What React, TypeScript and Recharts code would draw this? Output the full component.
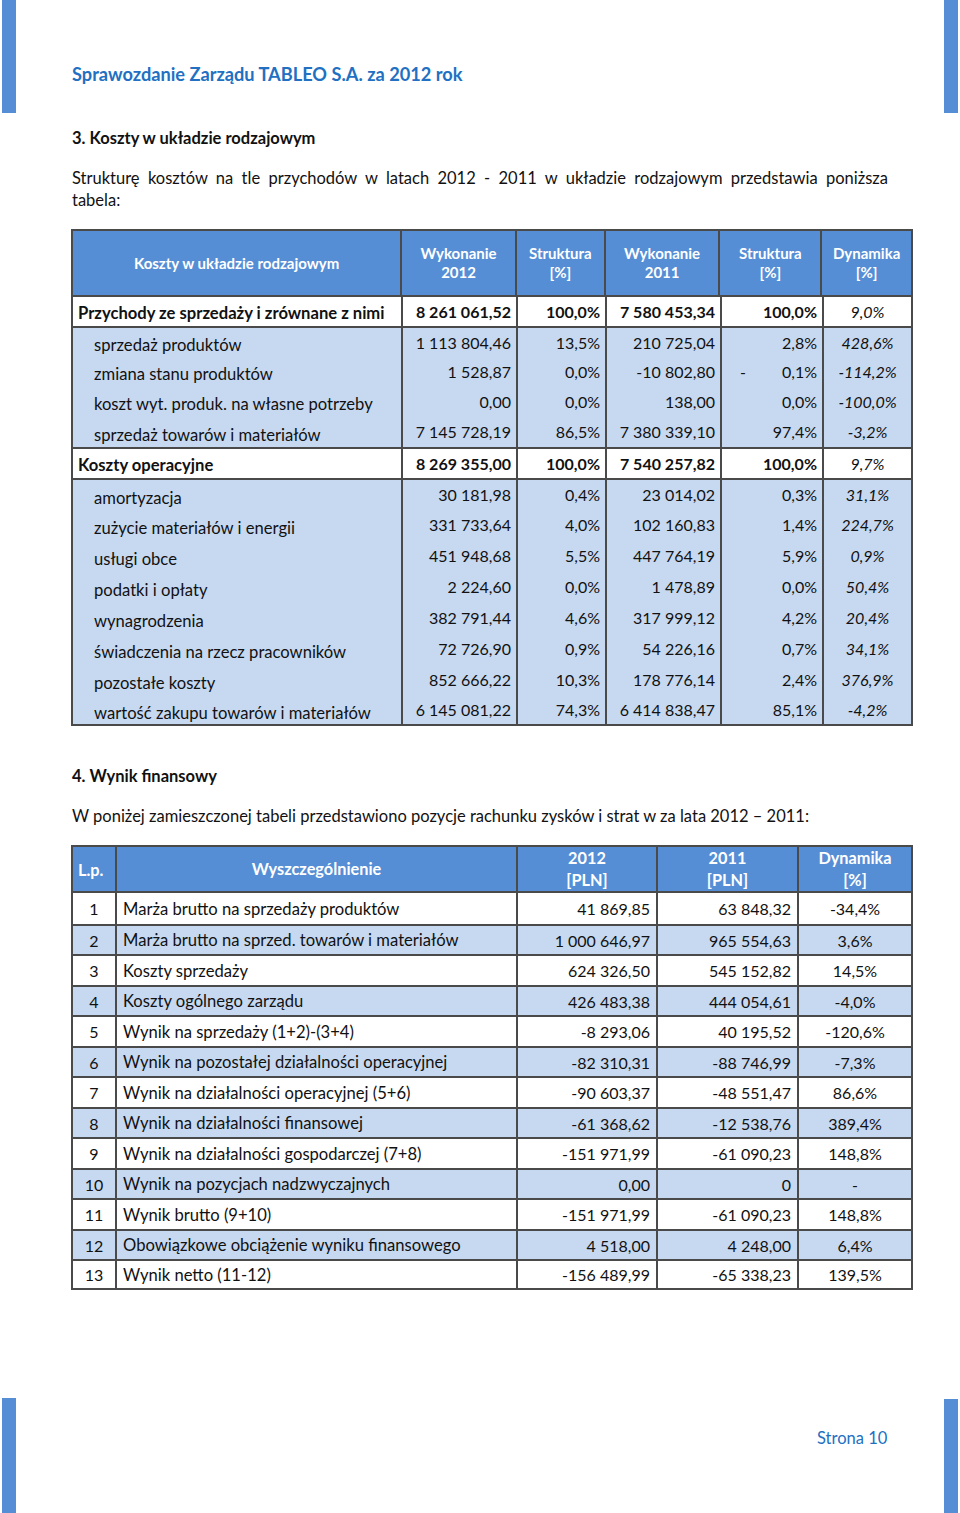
import React from "react"
import { Surface, Rectangle } from "recharts"

// page colours
const BLUE = "#558ED5"
const LIGHT = "#C6D9F1"
const LINE = "#4a4a4a"
const TITLE = "#2170C2"
const FONT = "Lato, 'Open Sans', sans-serif"

// table 3: koszty w układzie rodzajowym
const t1Headers = ["Koszty w układzie rodzajowym", "Wykonanie\n2012", "Struktura\n[%]", "Wykonanie\n2011", "Struktura\n[%]", "Dynamika\n[%]"]
const t1Labels = [
  "Przychody ze sprzedaży i zrównane z nimi",
  "sprzedaż produktów",
  "zmiana stanu produktów",
  "koszt wyt. produk. na własne potrzeby",
  "sprzedaż towarów i materiałów",
  "Koszty operacyjne",
  "amortyzacja",
  "zużycie materiałów i energii",
  "usługi obce",
  "podatki i opłaty",
  "wynagrodzenia",
  "świadczenia na rzecz pracowników",
  "pozostałe koszty",
  "wartość zakupu towarów i materiałów",
]
const t1Wyk2012 = ["8 261 061,52", "1 113 804,46", "1 528,87", "0,00", "7 145 728,19", "8 269 355,00", "30 181,98", "331 733,64", "451 948,68", "2 224,60", "382 791,44", "72 726,90", "852 666,22", "6 145 081,22"]
const t1Str2012 = ["100,0%", "13,5%", "0,0%", "0,0%", "86,5%", "100,0%", "0,4%", "4,0%", "5,5%", "0,0%", "4,6%", "0,9%", "10,3%", "74,3%"]
const t1Wyk2011 = ["7 580 453,34", "210 725,04", "-10 802,80", "138,00", "7 380 339,10", "7 540 257,82", "23 014,02", "102 160,83", "447 764,19", "1 478,89", "317 999,12", "54 226,16", "178 776,14", "6 414 838,47"]
const t1Str2011 = ["100,0%", "2,8%", "- 0,1%", "0,0%", "97,4%", "100,0%", "0,3%", "1,4%", "5,9%", "0,0%", "4,2%", "0,7%", "2,4%", "85,1%"]
const t1Dyn = ["9,0%", "428,6%", "-114,2%", "-100,0%", "-3,2%", "9,7%", "31,1%", "224,7%", "0,9%", "50,4%", "20,4%", "34,1%", "376,9%", "-4,2%"]
const t1BoldRows = [0, 5]

// table 4: wynik finansowy
const t2Headers = ["L.p.", "Wyszczególnienie", "2012\n[PLN]", "2011\n[PLN]", "Dynamika\n[%]"]
const t2Labels = [
  "Marża brutto na sprzedaży produktów",
  "Marża brutto na sprzed. towarów i materiałów",
  "Koszty sprzedaży",
  "Koszty ogólnego zarządu",
  "Wynik na sprzedaży (1+2)-(3+4)",
  "Wynik na pozostałej działalności operacyjnej",
  "Wynik na działalności operacyjnej (5+6)",
  "Wynik na działalności finansowej",
  "Wynik na działalności  gospodarczej (7+8)",
  "Wynik na pozycjach nadzwyczajnych",
  "Wynik brutto (9+10)",
  "Obowiązkowe obciążenie wyniku finansowego",
  "Wynik netto (11-12)",
]
const t2V2012 = ["41 869,85", "1 000 646,97", "624 326,50", "426 483,38", "-8 293,06", "-82 310,31", "-90 603,37", "-61 368,62", "-151 971,99", "0,00", "-151 971,99", "4 518,00", "-156 489,99"]
const t2V2011 = ["63 848,32", "965 554,63", "545 152,82", "444 054,61", "40 195,52", "-88 746,99", "-48 551,47", "-12 538,76", "-61 090,23", "0", "-61 090,23", "4 248,00", "-65 338,23"]
const t2Dyn = ["-34,4%", "3,6%", "14,5%", "-4,0%", "-120,6%", "-7,3%", "86,6%", "389,4%", "148,8%", "-", "148,8%", "6,4%", "139,5%"]

const t1Cols = [332, 115, 89, 115, 102, 89]
const t2Cols = [46, 401, 140, 141, 114]
const t1Heights = [29, 30, 30, 30, 31, 31, 31, 31, 31, 31, 31, 31, 31, 29]

const cell = (w: number, last: boolean): React.CSSProperties => ({
  width: w,
  boxSizing: "border-box",
  borderRight: last ? "none" : `2px solid ${LINE}`,
  display: "flex",
  alignItems: "center",
  height: "100%",
  whiteSpace: "nowrap",
})

const HeaderText = ({ text, lh }: { text: string; lh: number }) => (
  <div style={{ textAlign: "center", lineHeight: `${lh}px`, width: "100%" }}>
    {text.split("\n").map((t, i) => (
      <div key={i}>{t}</div>
    ))}
  </div>
)

function CostTable() {
  return (
    <div style={{ position: "absolute", left: 71, top: 229, width: 842, border: `2px solid ${LINE}`, boxSizing: "border-box", fontSize: 16 }}>
      <div style={{ display: "flex", height: 64, background: BLUE, color: "#fff", fontWeight: 700, fontSize: 15, borderBottom: `2px solid ${LINE}` }}>
        {t1Headers.map((h, i) => (
          <div key={i} style={{ ...cell(t1Cols[i] - (i === 0 ? 2 : 0), i === 5) }}>
            <HeaderText text={h} lh={19} />
          </div>
        ))}
      </div>
      {t1Labels.map((label, r) => {
        const bold = t1BoldRows.includes(r)
        const groupStart = r === 1 || r === 5 || r === 6
        const vals = [t1Wyk2012[r], t1Str2012[r], t1Wyk2011[r], t1Str2011[r]]
        return (
          <div
            key={r}
            style={{
              display: "flex",
              height: t1Heights[r] - (groupStart ? 2 : 0),
              background: bold ? "#fff" : LIGHT,
              borderTop: groupStart ? `2px solid ${LINE}` : "none",
              fontWeight: bold ? 700 : 400,
              color: "#111",
            }}
          >
            <div style={{ ...cell(t1Cols[0] - 2, false), fontSize: 16.6, paddingLeft: bold ? 5 : 21, paddingTop: bold ? 3 : 6 }}>{label}</div>
            {vals.map((v, i) => (
              <div key={i} style={{ ...cell(t1Cols[i + 1], false), justifyContent: "space-between", padding: "0 5px 0 0" }}>
                {v.startsWith("- ") ? (
                  <>
                    <span style={{ paddingLeft: 18 }}>-</span>
                    <span>{v.slice(2)}</span>
                  </>
                ) : (
                  <>
                    <span />
                    <span>{v}</span>
                  </>
                )}
              </div>
            ))}
            <div style={{ ...cell(t1Cols[5] - 2, true), justifyContent: "center", fontStyle: "italic", fontWeight: 400 }}>{t1Dyn[r]}</div>
          </div>
        )
      })}
    </div>
  )
}

function ResultTable() {
  return (
    <div style={{ position: "absolute", left: 71, top: 845, width: 842, border: `2px solid ${LINE}`, boxSizing: "border-box", fontSize: 16 }}>
      <div style={{ display: "flex", height: 44, background: BLUE, color: "#fff", fontWeight: 700, fontSize: 16.3, borderBottom: `2px solid ${LINE}` }}>
        {t2Headers.map((h, i) => (
          <div key={i} style={{ ...cell(t2Cols[i] - (i === 0 || i === 4 ? 2 : 0), i === 4), paddingLeft: i === 0 ? 5 : 0 }}>
            {i === 0 ? h : <HeaderText text={h} lh={22} />}
          </div>
        ))}
      </div>
      {t2Labels.map((label, r) => (
        <div
          key={r}
          style={{
            display: "flex",
            height: (r % 2 === 0 ? 31 : 30) - (r === 0 ? 0 : 2) - (r === 12 ? 2 : 0),
            background: r % 2 === 0 ? "#fff" : LIGHT,
            borderTop: r === 0 ? "none" : `2px solid ${LINE}`,
            color: "#111",
          }}
        >
          <div style={{ ...cell(t2Cols[0] - 2, false), justifyContent: "center" }}>{r + 1}</div>
          <div style={{ ...cell(t2Cols[1], false), paddingLeft: 6, fontSize: 16.6 }}>{label}</div>
          <div style={{ ...cell(t2Cols[2], false), justifyContent: "flex-end", paddingRight: 6 }}>{t2V2012[r]}</div>
          <div style={{ ...cell(t2Cols[3], false), justifyContent: "flex-end", paddingRight: 6 }}>{t2V2011[r]}</div>
          <div style={{ ...cell(t2Cols[4] - 2, true), justifyContent: "center" }}>{t2Dyn[r]}</div>
        </div>
      ))}
    </div>
  )
}

export default function App() {
  return (
    <div style={{ position: "relative", width: 960, height: 1513, fontFamily: FONT, color: "#111", background: "#fff", overflow: "hidden" }}>
      <style>{`body{margin:0}`}</style>
      <div style={{ position: "absolute", left: 0, top: 0 }}>
        <Surface width={960} height={1513}>
          <Rectangle x={2} y={0} width={14} height={113} fill={BLUE} />
          <Rectangle x={944} y={0} width={14} height={113} fill={BLUE} />
          <Rectangle x={2} y={1398} width={14} height={115} fill={BLUE} />
          <Rectangle x={944} y={1399} width={14} height={114} fill={BLUE} />
        </Surface>
      </div>
      <div style={{ position: "absolute", left: 72, top: 63, fontSize: 18.2, fontWeight: 700, color: TITLE }}>
        Sprawozdanie Zarządu TABLEO S.A. za 2012 rok
      </div>
      <div style={{ position: "absolute", left: 72, top: 128, fontSize: 16.5, fontWeight: 700 }}>3. Koszty w układzie rodzajowym</div>
      <div style={{ position: "absolute", left: 72, top: 167, width: 816, fontSize: 16.5, lineHeight: "22px" }}>
        <div style={{ textAlign: "justify", textAlignLast: "justify" }}>
          Strukturę kosztów na tle przychodów w latach 2012 - 2011 w układzie rodzajowym przedstawia poniższa
        </div>
        <div>tabela:</div>
      </div>
      <CostTable />
      <div style={{ position: "absolute", left: 72, top: 766, fontSize: 16.5, fontWeight: 700 }}>4. Wynik finansowy</div>
      <div style={{ position: "absolute", left: 72, top: 806, fontSize: 16.5 }}>
        W poniżej zamieszczonej tabeli przedstawiono pozycje rachunku zysków i strat w za lata 2012 – 2011:
      </div>
      <ResultTable />
      <div style={{ position: "absolute", left: 817, top: 1428, fontSize: 16.5, color: TITLE }}>Strona 10</div>
    </div>
  )
}
